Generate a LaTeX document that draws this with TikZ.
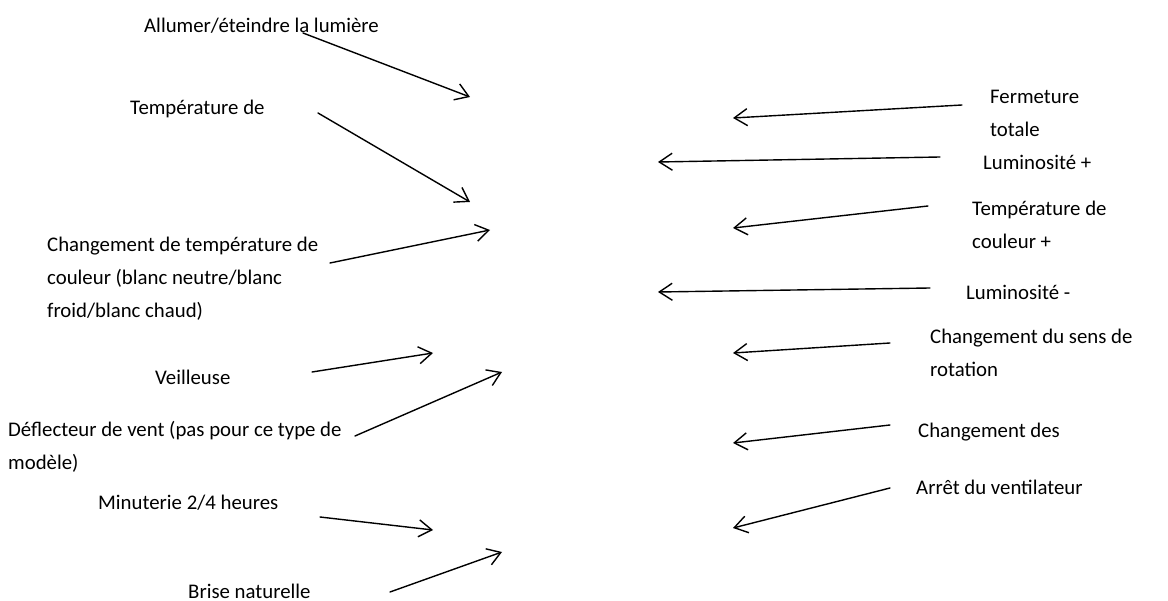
\documentclass[tikz,border=0pt]{standalone}
\usepackage{fontspec}
\setmainfont{Carlito}
\usetikzlibrary{arrows.meta}
\begin{document}
\begin{tikzpicture}[x=1pt,y=-1pt,
  lbl/.style={font=\fontsize{20.8}{33}\selectfont, inner sep=0pt, align=left, anchor=base west},
  conn/.style={line width=1.4pt, line cap=round, -{Straight Barb[length=13pt,width=17pt,line width=1.4pt]}}]
\useasboundingbox (0,0) rectangle (1168,601);
% left labels (multi-line nodes are placed by the baseline of their last line)
\node[lbl] (l1) at (144,33) {Allumer/éteindre la lumière};
\node[lbl] (l2) at (130,115) {Température de};
\node[lbl] (l3) at (47,318) {Changement de température de\\couleur (blanc neutre/blanc\\froid/blanc chaud)};
\node[lbl] (l4) at (155,385) {Veilleuse};
\node[lbl] (l5) at (8,470) {Déflecteur de vent (pas pour ce type de\\modèle)};
\node[lbl] (l6) at (98,510) {Minuterie 2/4 heures};
\node[lbl] (l7) at (188,598) {Brise naturelle};
% right labels
\node[lbl] (r1) at (990,137) {Fermeture\\totale};
\node[lbl] (r2) at (983,170) {Luminosité +};
\node[lbl] (r3) at (972,249) {Température de\\couleur +};
\node[lbl] (r4) at (966,300) {Luminosité -};
\node[lbl] (r5) at (930,377) {Changement du sens de\\rotation};
\node[lbl] (r6) at (918,438) {Changement des};
\node[lbl] (r7) at (916,495) {Arrêt du ventilateur};
% connector ends
\coordinate (a1s) at (303,33);  \coordinate (a1e) at (470,97);
\coordinate (a2s) at (318,113); \coordinate (a2e) at (470,202);
\coordinate (a3s) at (330,263); \coordinate (a3e) at (490,230);
\coordinate (a4s) at (312,372); \coordinate (a4e) at (433,353);
\coordinate (a5s) at (355,436); \coordinate (a5e) at (502,372);
\coordinate (a6s) at (320,517); \coordinate (a6e) at (433,530);
\coordinate (a7s) at (390,592); \coordinate (a7e) at (502,552);
\coordinate (b1s) at (962,105); \coordinate (b1e) at (733,118);
\coordinate (b2s) at (940,157); \coordinate (b2e) at (658,162);
\coordinate (b3s) at (928,206); \coordinate (b3e) at (733,228);
\coordinate (b4s) at (930,288); \coordinate (b4e) at (658,292);
\coordinate (b5s) at (890,343); \coordinate (b5e) at (733,353);
\coordinate (b6s) at (890,425); \coordinate (b6e) at (733,443);
\coordinate (b7s) at (890,488); \coordinate (b7e) at (733,528);
\foreach \i in {1,...,7} {
  \draw[conn] (a\i s) -- (a\i e);
  \draw[conn] (b\i s) -- (b\i e);
}
\end{tikzpicture}
\end{document}
